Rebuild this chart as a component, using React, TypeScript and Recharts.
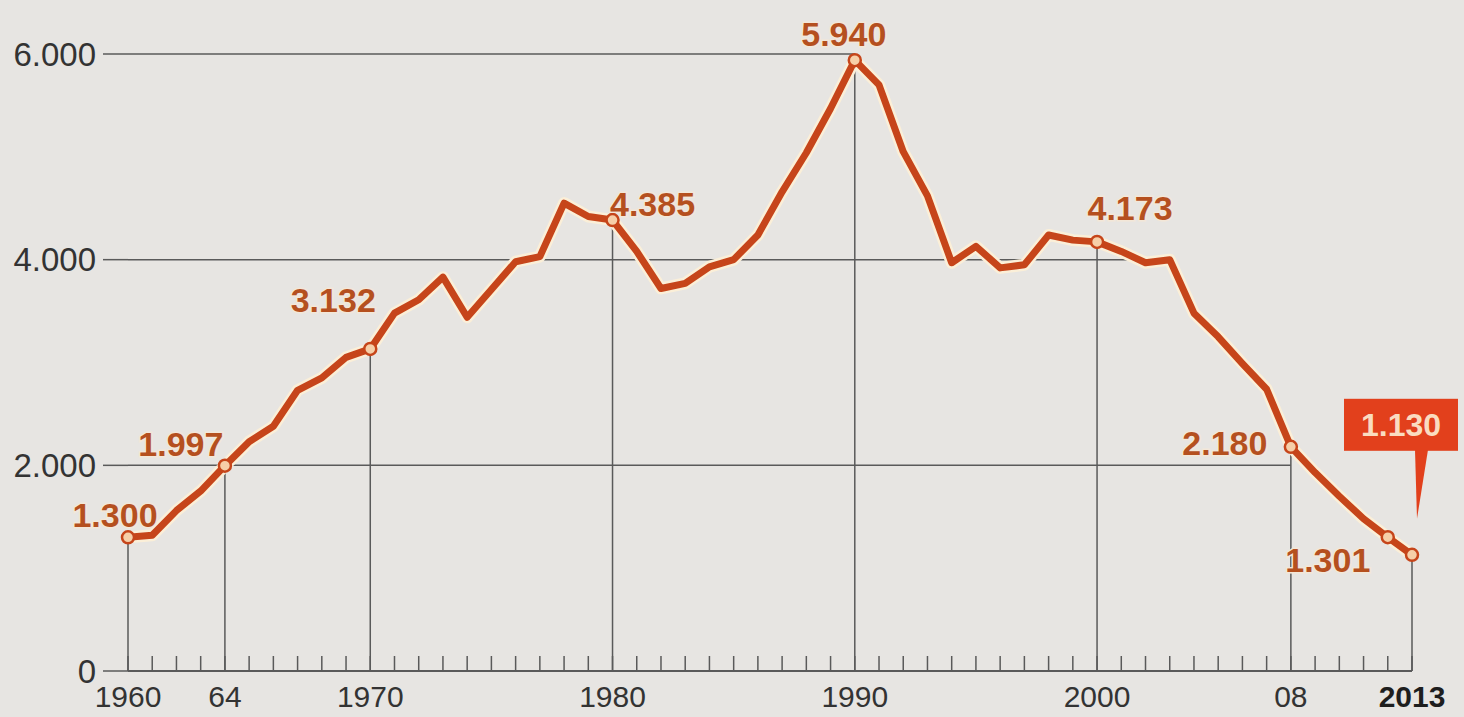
import { LineChart, Line, XAxis, YAxis, ReferenceLine } from "recharts";

const YEARS = [
  1960, 1961, 1962, 1963, 1964, 1965, 1966, 1967, 1968, 1969,
  1970, 1971, 1972, 1973, 1974, 1975, 1976, 1977, 1978, 1979,
  1980, 1981, 1982, 1983, 1984, 1985, 1986, 1987, 1988, 1989,
  1990, 1991, 1992, 1993, 1994, 1995, 1996, 1997, 1998, 1999,
  2000, 2001, 2002, 2003, 2004, 2005, 2006, 2007, 2008, 2009,
  2010, 2011, 2012, 2013,
];

const VALUES = [
  1300, 1320, 1560, 1750, 1997, 2230, 2380, 2730, 2850, 3050,
  3132, 3480, 3610, 3830, 3440, 3710, 3980, 4030, 4550, 4420,
  4385, 4080, 3720, 3770, 3930, 4000, 4240, 4660, 5040, 5470,
  5940, 5700, 5050, 4620, 3970, 4130, 3920, 3950, 4240, 4190,
  4173, 4080, 3970, 4000, 3480, 3250, 2990, 2740, 2180, 1930,
  1700, 1480, 1301, 1130,
];

// years with a circle + value label
const HIGHLIGHT_YEARS = [1960, 1964, 1970, 1980, 1990, 2000, 2008, 2012, 2013];
// years with a vertical line down to the axis
const DROP_YEARS = [1960, 1964, 1970, 1980, 1990, 2000, 2008, 2013];
const Y_TICKS = [0, 2000, 4000, 6000];
const X_LABELS: Record<number, string> = {
  1960: "1960",
  1964: "64",
  1970: "1970",
  1980: "1980",
  1990: "1990",
  2000: "2000",
  2008: "08",
  2013: "2013",
};
const LAST_YEAR = 2013;

const data = YEARS.map((year, i) => ({ year, v: VALUES[i] }));

// label offsets (centre of text relative to the point)
const LABEL_OFFSET: Record<number, [number, number]> = {
  1960: [-13, -22],
  1964: [-44, -22],
  1970: [-37, -49],
  1980: [40, -16],
  1990: [-11, -26],
  2000: [33, -34],
  2008: [-66, -4],
  2012: [-60, 23],
};

const FONT = "'Liberation Sans', Arial, Helvetica, sans-serif";
const LINE = "#c6451a";
const LABEL = "#b5501f";
const GRID = "#5a5a5a";

function fmt(n: number): string {
  return String(n).replace(/\B(?=(\d{3})+(?!\d))/g, ".");
}

// horizontal grid lines run from the axis to the last year the curve is at/above them
function gridEnd(level: number): number {
  let end = -1;
  data.forEach((d) => {
    if (d.v >= level) end = d.year;
  });
  if (end < 0) {
    end = data.reduce((a, b) => (b.v > a.v ? b : a)).year;
  }
  return end;
}

function renderDot(props: any) {
  const { cx, cy, payload } = props;
  const year = payload.year;
  if (!HIGHLIGHT_YEARS.includes(year)) return <g key={`d-${year}`} />;
  const circle = (
    <circle cx={cx} cy={cy} r={6} fill="#f6cfa8" stroke={LINE} strokeWidth={2.5} />
  );
  if (year === LAST_YEAR) {
    return (
      <g key={`d-${year}`}>
        {circle}
        <polygon
          points={`${cx + 3},${cy - 105} ${cx + 16},${cy - 105} ${cx + 5},${cy - 36}`}
          fill="#e2401c"
        />
        <rect x={cx - 68} y={cy - 156} width={114} height={52} fill="#e2401c" />
        <text
          x={cx - 11}
          y={cy - 130}
          textAnchor="middle"
          dominantBaseline="central"
          fontFamily={FONT}
          fontWeight={700}
          fontSize={32}
          fill="#fadcc0"
        >
          {fmt(payload.v)}
        </text>
      </g>
    );
  }
  const [dx, dy] = LABEL_OFFSET[year] ?? [0, -25];
  return (
    <g key={`d-${year}`}>
      {circle}
      <text
        x={cx + dx}
        y={cy + dy}
        textAnchor="middle"
        dominantBaseline="central"
        fontFamily={FONT}
        fontWeight={700}
        fontSize={34}
        fill={LABEL}
        stroke="#f3e7d8"
        strokeWidth={3}
        paintOrder="stroke"
      >
        {fmt(payload.v)}
      </text>
    </g>
  );
}

function renderXTick(props: any) {
  const { x, y, payload } = props;
  const label = X_LABELS[payload.value];
  return (
    <g>
      <line x1={x} y1={y} x2={x} y2={y - 15} stroke={GRID} strokeWidth={1.5} />
      {label && (
        <text
          x={x}
          y={y + 36}
          textAnchor="middle"
          fontFamily={FONT}
          fontSize={30}
          fontWeight={payload.value === LAST_YEAR ? 700 : 400}
          fill={payload.value === LAST_YEAR ? "#1e1e1e" : "#333"}
        >
          {label}
        </text>
      )}
    </g>
  );
}

export default function App() {
  const valueOf = (year: number) => data.find((d) => d.year === year)!.v;
  return (
    <div style={{ width: 1464, height: 717, background: "#e7e5e2" }}>
      <style>{"body{margin:0}"}</style>
      <LineChart
        width={1464}
        height={717}
        data={data}
        margin={{ top: 54, right: 52, left: 0, bottom: 0 }}
      >
        <XAxis
          dataKey="year"
          type="number"
          domain={[1960, 2013]}
          ticks={YEARS}
          interval={0}
          tick={renderXTick}
          tickLine={false}
          tickSize={0}
          tickMargin={0}
          height={46}
          axisLine={{ stroke: GRID, strokeWidth: 2 }}
        />
        <YAxis
          type="number"
          domain={[0, 6000]}
          ticks={Y_TICKS}
          width={128}
          axisLine={false}
          tickLine={{ stroke: GRID, strokeWidth: 1.5 }}
          tickSize={25}
          tickMargin={7}
          tickFormatter={(v: number) => fmt(v)}
          tick={{ fontSize: 33, fill: "#333", fontFamily: FONT }}
        />
        {Y_TICKS.filter((t) => t > 0).map((t) => (
          <ReferenceLine
            key={`h-${t}`}
            segment={[
              { x: 1960, y: t },
              { x: gridEnd(t), y: t },
            ]}
            stroke={GRID}
            strokeWidth={1.5}
          />
        ))}
        {DROP_YEARS.map((yr) => (
          <ReferenceLine
            key={`v-${yr}`}
            segment={[
              { x: yr, y: 0 },
              { x: yr, y: valueOf(yr) },
            ]}
            stroke={GRID}
            strokeWidth={1.5}
          />
        ))}
        <Line
          dataKey="v"
          stroke="#fbefd8"
          strokeWidth={12}
          strokeLinejoin="round"
          dot={false}
          activeDot={false}
          isAnimationActive={false}
        />
        <Line
          dataKey="v"
          stroke={LINE}
          strokeWidth={7}
          strokeLinejoin="round"
          dot={renderDot}
          activeDot={false}
          isAnimationActive={false}
        />
      </LineChart>
    </div>
  );
}
